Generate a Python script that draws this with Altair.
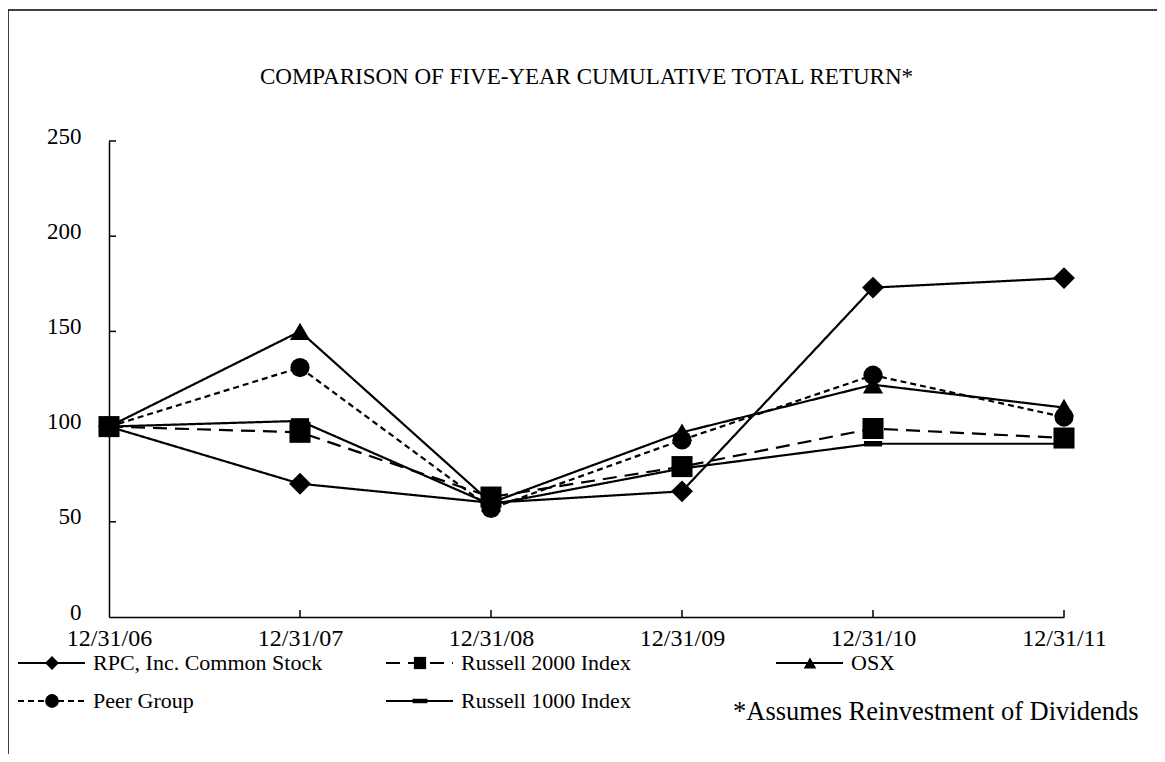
import altair as alt
import pandas as pd

# ---- data ----
dates = ["12/31/06", "12/31/07", "12/31/08", "12/31/09", "12/31/10", "12/31/11"]
series_names = ["RPC, Inc. Common Stock", "Russell 2000 Index", "OSX",
                "Peer Group", "Russell 1000 Index"]
rpc = [100, 70, 60, 66, 173, 178]
russell2000 = [100, 97, 63, 79, 99, 94]
osx = [100, 150, 60, 97, 122, 110]
peer = [100, 131, 57, 93, 127, 105]
russell1000 = [100, 103, 59, 78, 91, 91]
y_ticks = [0, 50, 100, 150, 200, 250]
title_text = "COMPARISON OF FIVE-YEAR CUMULATIVE TOTAL RETURN*"
note_text = "*Assumes Reinvestment of Dividends"

rows = []
for name, vals in zip(series_names, [rpc, russell2000, osx, peer, russell1000]):
    for d, v in zip(dates, vals):
        rows.append({"date": d, "series": name, "value": v})
df = pd.DataFrame(rows)

# ---- styling ----
FONT = "Liberation Serif, Times New Roman, serif"
W, H = 955, 476
PAD_L, PAD_T = 101, 133
dashes = [[1, 0], [14, 8], [1, 0], [6, 4], [1, 0]]
bar_path = "M-1,-0.3H1V0.3H-1Z"
shapes = ["diamond", "square", "triangle-up", "circle", bar_path]
sizes = [480, 330, 340, 420, 380]
legend_sizes = [190, 150, 160, 190, 220]

x_enc = alt.X("date:N", sort=dates, title=None,
              scale=alt.Scale(type="point", padding=0, domain=dates),
              axis=alt.Axis(labelFont=FONT, labelFontSize=24, labelColor="black",
                            labelAngle=0, tickSize=0, labelPadding=9,
                            domainColor="black", domainWidth=1.5,
                            labelFlush=False, labelOverlap=False, grid=False))
y_enc = alt.Y("value:Q", title=None,
              scale=alt.Scale(domain=[0, 250], nice=False, zero=True),
              axis=alt.Axis(values=y_ticks, labelFont=FONT, labelFontSize=23,
                            labelColor="black", tickSize=0, labelPadding=28,
                            labelOffset=-5,
                            domainColor="black", domainWidth=1.5, grid=False))

base = alt.Chart(df)
lines = base.mark_line(color="black", strokeWidth=2.2).encode(
    x=x_enc, y=y_enc,
    detail="series:N",
    strokeDash=alt.StrokeDash("series:N", scale=alt.Scale(domain=series_names, range=dashes),
                              legend=None),
)
points = base.mark_point(filled=True, color="black", opacity=1).encode(
    x=alt.X("date:N", sort=dates),
    y="value:Q",
    shape=alt.Shape("series:N", scale=alt.Scale(domain=series_names, range=shapes), legend=None),
    size=alt.Size("series:N", scale=alt.Scale(domain=series_names, range=sizes), legend=None),
)

# inward axis ticks
ytick_df = pd.DataFrame({"value": y_ticks[1:]})
yticks = alt.Chart(ytick_df).mark_rule(color="black", strokeWidth=1.5).encode(
    y="value:Q", x=alt.value(0), x2=alt.value(7))
xtick_df = pd.DataFrame({"date": dates[1:]})
xticks = alt.Chart(xtick_df).mark_rule(color="black", strokeWidth=1.5).encode(
    x=alt.X("date:N", sort=dates), y=alt.value(H), y2=alt.value(H - 7))

one = pd.DataFrame({"a": [0]})

def px(X):
    return X - (8 + PAD_L)

def py(Y):
    return Y - (8 + PAD_T)

frame = alt.Chart(one).mark_rect(fill=None, stroke="black", strokeWidth=1.5).encode(
    x=alt.value(px(8)), x2=alt.value(px(1300)), y=alt.value(py(10)), y2=alt.value(py(900)))

title = alt.Chart(one).mark_text(font=FONT, fontSize=23, color="black",
                                 align="center", baseline="middle").encode(
    x=alt.value(W / 2), y=alt.value(py(77)), text=alt.value(title_text))

note = alt.Chart(one).mark_text(font=FONT, fontSize=26.5, color="black",
                                align="left", baseline="middle").encode(
    x=alt.value(px(733)), y=alt.value(py(712)), text=alt.value(note_text))

# legend layout: 3 columns x 2 rows
col_x = [18, 386, 776]
row_y = [663, 701]
legend_layers = []
for i, name in enumerate(series_names):
    cx = col_x[i % 3]
    ry = row_y[i // 3]
    seg = alt.Chart(one).mark_rule(color="black", strokeWidth=2,
                                   strokeDash=dashes[i]).encode(
        x=alt.value(px(cx)), x2=alt.value(px(cx + 67)), y=alt.value(py(ry)))
    mk = alt.Chart(one).mark_point(filled=True, color="black", opacity=1,
                                   shape=shapes[i], size=legend_sizes[i]).encode(
        x=alt.value(px(cx + 34)), y=alt.value(py(ry)))
    tx = alt.Chart(one).mark_text(font=FONT, fontSize=22, color="black",
                                  align="left", baseline="middle").encode(
        x=alt.value(px(cx + 75)), y=alt.value(py(ry)), text=alt.value(name))
    legend_layers += [seg, mk, tx]

chart = alt.layer(frame, lines, points, yticks, xticks, title, note, *legend_layers).properties(
    width=W, height=H,
    autosize=alt.AutoSizeParams(type="none"),
    padding={"left": PAD_L, "top": PAD_T, "right": 93, "bottom": 137},
    background="white",
).configure_view(stroke=None)

chart.save("out.html", embed_options={"renderer": "svg", "actions": False})
